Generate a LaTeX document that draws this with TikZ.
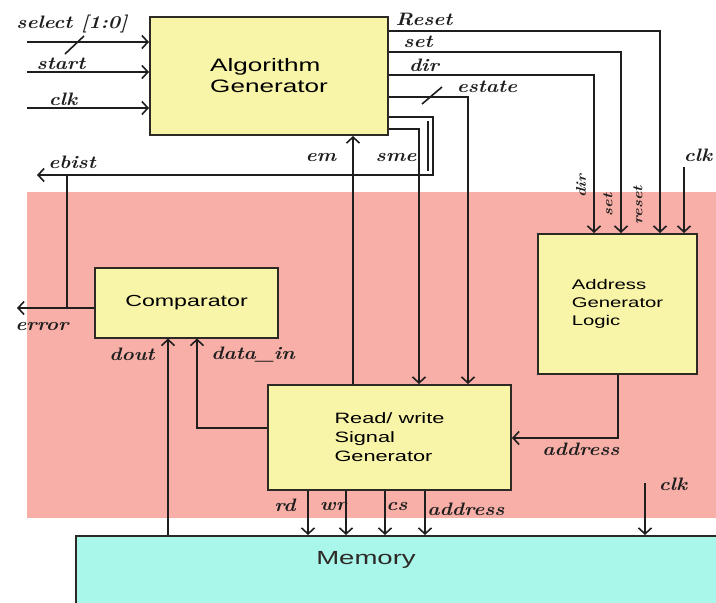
\documentclass[tikz,border=0pt]{standalone}
\usepackage{fontspec}
\usetikzlibrary{arrows.meta}
\newfontfamily\boxfont[FakeStretch=1.45]{Liberation Sans}
\newfontfamily\handfont[FakeStretch=1.15]{Latin Modern Roman}
\definecolor{bandpink}{RGB}{248,175,167}
\definecolor{boxyellow}{RGB}{249,245,168}
\definecolor{memcyan}{RGB}{169,246,234}
\definecolor{boxline}{RGB}{45,42,38}
\definecolor{wirecol}{RGB}{30,30,30}
\tikzset{
  blk/.style={draw=boxline, line width=2pt, fill=boxyellow, inner sep=0pt, align=left},
  memblk/.style={draw=boxline, line width=2pt, fill=memcyan, inner sep=0pt},
  wire/.style={draw=wirecol, line width=1.6pt},
  arr/.style={wire, -{Straight Barb[length=6pt,width=13pt,line width=1.6pt]}},
  lbl/.style={font=\handfont\bfseries\itshape\fontsize{18}{18}\selectfont, inner sep=0pt, text=wirecol},
  smalllbl/.style={lbl, font=\handfont\bfseries\itshape\fontsize{14}{14}\selectfont},
}
\begin{document}
\begin{tikzpicture}[x=1pt,y=-1pt]
\useasboundingbox (0,0) rectangle (716,603);
% shaded band behind the lower blocks
\fill[bandpink] (27,192) rectangle (716,518);

% blocks
\node[blk, minimum width=238pt, minimum height=118pt,
      font=\boxfont\fontsize{18}{21}\selectfont] (alg) at (269,76) {Algorithm\\Generator};
\node[blk, minimum width=183pt, minimum height=70pt,
      font=\boxfont\fontsize{16}{19}\selectfont] (comp) at (186.5,302.5) {Comparator};
\node[blk, minimum width=159pt, minimum height=140pt,
      font=\boxfont\fontsize{14}{18}\selectfont] (agl) at (617.5,304) {Address\\Generator\\Logic};
\node[blk, minimum width=243pt, minimum height=105pt,
      font=\boxfont\fontsize{15}{19}\selectfont] (rw) at (389.5,437.5) {Read/ write\\Signal\\Generator};
\node[memblk, minimum width=680pt, minimum height=110pt, anchor=north west] (mem) at (75,535) {};
\node[font=\boxfont\fontsize{19}{22}\selectfont, text=boxline, inner sep=0pt] (memtxt) at (366,560) {Memory};

% inputs of the algorithm generator
\coordinate (selIn) at (27,42);
\coordinate (stIn) at (27,72);
\coordinate (clkIn) at (27,108);
\draw[arr] (selIn) -- (selIn -| alg.west);
\draw[arr] (stIn) -- (stIn -| alg.west);
\draw[arr] (clkIn) -- (clkIn -| alg.west);
\draw[wire] (65,54) -- (84,36);
\node[lbl] (lsel) at (72,24) {select [1:0]};
\node[lbl] (lstart) at (61,64) {start};
\node[lbl] (lclk) at (63,99) {clk};

% control lines to the address generator
\coordinate (rstT) at (660,31);
\coordinate (setT) at (621,52);
\coordinate (dirT) at (594,75);
\coordinate (clkA) at (684,167);
\draw[arr] (alg.east |- rstT) -| (agl.north -| rstT);
\draw[arr] (alg.east |- setT) -| (agl.north -| setT);
\draw[arr] (alg.east |- dirT) -| (agl.north -| dirT);
\draw[arr] (clkA) -- (clkA |- agl.north);
\node[lbl] (lrst) at (424,19) {Reset};
\node[lbl] (lset) at (418,42) {set};
\node[lbl] (ldir) at (424,65) {dir};
\node[smalllbl, rotate=90] (ldir2) at (581,186) {dir};
\node[smalllbl, rotate=90] (lset2) at (608,205) {set};
\node[smalllbl, rotate=90] (lrst2) at (638,205) {reset};
\node[lbl] (lclkA) at (698,155) {clk};

% state and enable lines to the read/write generator
\coordinate (estT) at (468,97);
\coordinate (smeT) at (419,129);
\coordinate (enX) at (353,0);
\draw[arr] (alg.east |- estT) -| (rw.north -| estT);
\draw[wire] (422,104) -- (442,87);
\draw[arr] (alg.east |- smeT) -| (rw.north -| smeT);
\draw[arr] (rw.north -| enX) -- (alg.south -| enX);
\node[lbl] (lest) at (487,87) {estate};
\node[lbl] (len) at (321,157) {em};
\node[lbl] (lsme) at (396,157) {sme};

% end-of-test flag
\coordinate (eb1) at (433,117);
\coordinate (eb2) at (37,175);
\coordinate (ebT) at (67,175);
\draw[arr] (alg.east |- eb1) -- (eb1) |- (eb2);
\draw[draw=wirecol, line width=2.6pt] (428,121) -- (428,171);
\draw[wire] (ebT) -- (ebT |- 0,308);
\node[lbl] (lebist) at (72,162) {ebist};

% comparator connections
\coordinate (errOut) at (17,308);
\coordinate (diT) at (197,428);
\coordinate (doX) at (168,0);
\draw[arr] (comp.west |- errOut) -- (errOut);
\draw[arr] (rw.west |- diT) -| (comp.south -| diT);
\draw[arr] (mem.north -| doX) -- (comp.south -| doX);
\node[lbl] (lerr) at (42,326) {error};
\node[lbl] (ldout) at (132,354) {dout};
\node[lbl] (ldin) at (253,355) {data\_in};

% address from the address generator
\coordinate (adT) at (618,438);
\draw[arr] (agl.south -| adT) |- (rw.east |- adT);
\node[lbl] (ladA) at (581,449) {address};

% read/write generator to memory
\foreach \x/\n in {308/rd, 346/wr, 385/cs, 425/ad} {
  \coordinate (o\n) at (\x,0);
  \draw[arr] (rw.south -| o\n) -- (mem.north -| o\n);
}
\node[lbl] (lrd) at (285,505) {rd};
\node[lbl] (lwr) at (333,506) {wr};
\node[lbl] (lcs) at (397,506) {cs};
\node[lbl] (lad) at (466,509) {address};

% memory clock
\coordinate (clkM) at (645,483);
\draw[arr] (clkM) -- (clkM |- mem.north);
\node[lbl] (lclkM) at (673,484) {clk};
\end{tikzpicture}
\end{document}
